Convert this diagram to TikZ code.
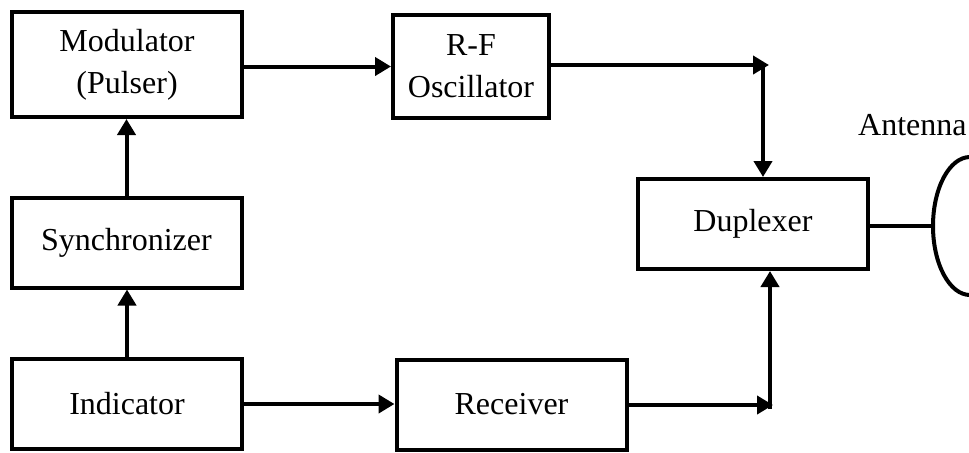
\documentclass[tikz,border=0pt]{standalone}
\usepackage{fontspec}
\setmainfont{Liberation Serif}
\usetikzlibrary{arrows.meta,shapes.geometric}
\begin{document}
\begin{tikzpicture}[x=0.5pt,y=-0.5pt,
	block/.style={draw,line width=2pt,inner sep=0pt,align=center,
		minimum width=115pt,minimum height=45pt,
		font=\fontsize{16}{21}\selectfont},
	arr/.style={line width=2pt,-{Triangle[length=8pt,width=9pt]}},
	wire/.style={line width=2pt}]

\useasboundingbox (0,0) rectangle (969,452);

% blocks
\node[block,minimum height=52.5pt] (mod) at (127,64.5) {Modulator\\(Pulser)};
\node[block,minimum width=78pt,minimum height=51.5pt] (rf) at (471,66.5) {R-F\\Oscillator};
\node[block] (sync) at (126.5,242.5) {Synchronizer};
\node[block] (ind) at (127,404) {Indicator};
\node[block] (rec) at (511.5,404.5) {Receiver};
\node[block] (dup) at (753,224) {Duplexer};

% antenna
\node[ellipse,draw,line width=2pt,minimum width=37pt,minimum height=69pt] (ant) at (970,226) {};
\node[anchor=east,inner sep=0pt,font=\fontsize{16}{21}\selectfont] (antlab) at (967,125) {Antenna};

\coordinate (rftip) at (769,65);
\coordinate (rfdrop) at (763,63);
\coordinate (rectip) at (773,405);
\coordinate (recrise) at (770,409);

% connections
\draw[arr] (sync.north) -- (sync.north |- mod.south);
\draw[arr] (ind.north) -- (ind.north |- sync.south);
\draw[arr] (mod.east |- rf.west) -- (rf.west);
\draw[arr] (ind.east) -- (ind.east -| rec.west);
\draw[arr] (rf.east |- rftip) -- (rftip);
\draw[arr] (rfdrop) -- (rfdrop |- dup.north);
\draw[arr] (rec.east |- rectip) -- (rectip);
\draw[arr] (recrise) -- (recrise |- dup.south);
\draw[wire] (dup.east |- ant.west) -- (ant.west);
\end{tikzpicture}
\end{document}
